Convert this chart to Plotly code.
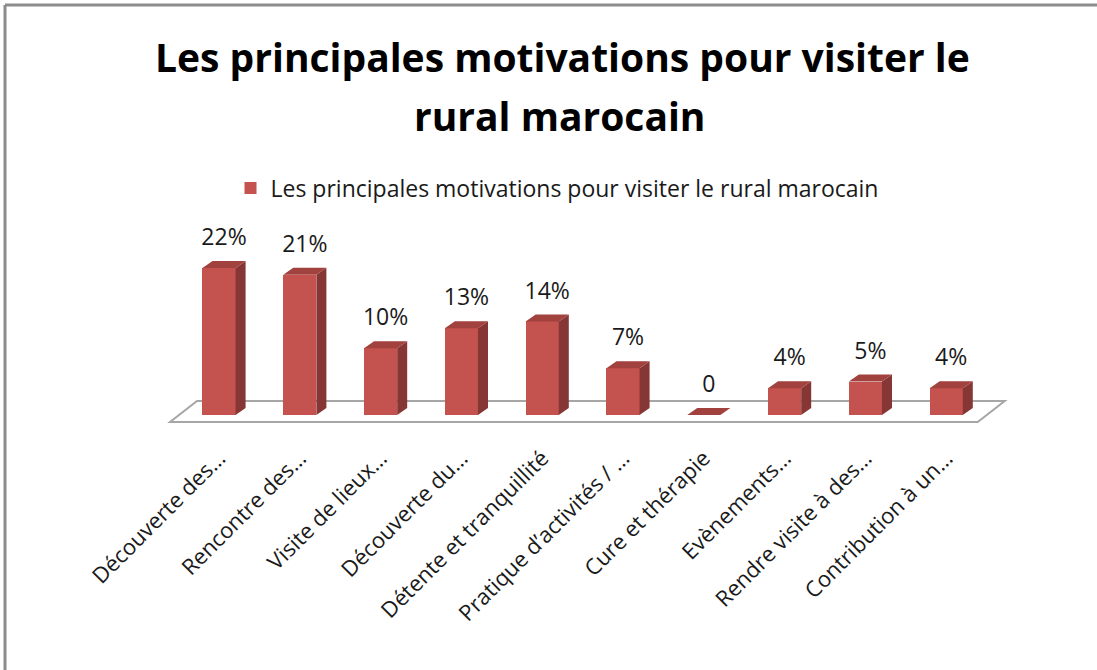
import plotly.graph_objects as go

FONT_FAMILY = "Open Sans, Noto Sans, sans-serif"

CATEGORIES = [
    "Découverte des…",
    "Rencontre des…",
    "Visite de lieux…",
    "Découverte du…",
    "Détente et tranquillité",
    "Pratique d’activités / …",
    "Cure et thérapie",
    "Evènements…",
    "Rendre visite à des…",
    "Contribution à un…",
]
VALUES = [22, 21, 10, 13, 14, 7, 0, 4, 5, 4]
LABELS = ["22%", "21%", "10%", "13%", "14%", "7%", "0", "4%", "5%", "4%"]
SERIES_NAME = "Les principales motivations pour visiter le rural marocain"

FRONT = "#c4534f"
SIDE = "#863634"
TOP = "#a2423e"

# pseudo 3d geometry, in axis units
BAR_W = 0.41
DX = 0.124
DY = 1.05
LABEL_GAP = 4.3

# plot area in pixels: x 150..1030, y 200..440
ML, MR, MT, MB = 150, 67, 200, 230
PW, PH = 1097 - ML - MR, 670 - MT - MB


def px_x(p):
    return (p - ML) / PW


def px_y(p):
    return (670 - MB - p) / PH


xs = list(range(len(CATEGORIES)))

fig = go.Figure()

fig.add_trace(go.Bar(
    x=xs,
    y=VALUES,
    width=BAR_W,
    marker=dict(color=FRONT, line=dict(width=0)),
    name=SERIES_NAME,
    hoverinfo="skip",
))

side_x, side_y, top_x, top_y = [], [], [], []
for x, v in zip(xs, VALUES):
    r = x + BAR_W / 2
    l = x - BAR_W / 2
    if v > 0:
        side_x += [r, r + DX, r + DX, r, r, None]
        side_y += [0, DY, v + DY, v, 0, None]
    top_x += [l, r, r + DX, l + DX, l, None]
    top_y += [v, v, v + DY, v + DY, v, None]

fig.add_trace(go.Scatter(
    x=side_x, y=side_y, mode="lines", fill="toself",
    fillcolor=SIDE, line=dict(width=0, color=SIDE),
    showlegend=False, hoverinfo="skip",
))
fig.add_trace(go.Scatter(
    x=top_x, y=top_y, mode="lines", fill="toself",
    fillcolor=TOP, line=dict(width=0, color=TOP),
    showlegend=False, hoverinfo="skip",
))
fig.add_trace(go.Scatter(
    x=[x + DX / 2 for x in xs],
    y=[v + LABEL_GAP for v in VALUES],
    mode="text",
    text=LABELS,
    textposition="middle center",
    textfont=dict(size=23, color="#1a1a1a"),
    showlegend=False, hoverinfo="skip",
))

# floor of the 3d plot
n = len(CATEGORIES)
fl_front, fl_back = -1.05, 2.1
fl_l, fl_r = -0.606, n - 1 + 0.39
fl_dx = 0.334
fig.add_shape(
    type="path",
    path=(f"M {fl_l},{fl_front} L {fl_r},{fl_front} "
          f"L {fl_r + fl_dx},{fl_back} L {fl_l + fl_dx},{fl_back} Z"),
    xref="x", yref="y",
    line=dict(color="#a6a6a6", width=2),
    fillcolor="white",
    layer="below",
)

# outer chart frame: only the left and top edges are inside the page
frame = dict(color="#8c8c8c", width=3)
fig.add_shape(type="line", xref="paper", yref="paper",
              x0=px_x(5), x1=px_x(1097), y0=px_y(5), y1=px_y(5), line=frame)
fig.add_shape(type="line", xref="paper", yref="paper",
              x0=px_x(5), x1=px_x(5), y0=px_y(670), y1=px_y(5), line=frame)

fig.add_annotation(
    text="<b>Les principales motivations pour visiter le</b>",
    xref="paper", yref="paper", x=px_x(562), y=px_y(57),
    xanchor="center", yanchor="middle", showarrow=False,
    font=dict(size=39, color="black"),
)
fig.add_annotation(
    text="<b>rural marocain</b>",
    xref="paper", yref="paper", x=px_x(560), y=px_y(116),
    xanchor="center", yanchor="middle", showarrow=False,
    font=dict(size=39, color="black"),
)

fig.update_layout(
    width=1097,
    height=670,
    font=dict(family=FONT_FAMILY, size=19, color="#1a1a1a"),
    paper_bgcolor="white",
    plot_bgcolor="white",
    margin=dict(l=ML, r=MR, t=MT, b=MB),
    showlegend=True,
    legend=dict(
        orientation="h", x=px_x(557), xanchor="center",
        y=px_y(188), yanchor="middle",
        font=dict(size=23), itemwidth=30,
    ),
    bargap=0,
)
fig.update_xaxes(
    range=[-0.854, -0.854 + PW / 80.8],
    tickvals=xs,
    ticktext=CATEGORIES,
    tickangle=-45,
    showgrid=False, zeroline=False, showline=False, ticks="",
    tickfont=dict(size=22),
    fixedrange=True,
)
fig.update_yaxes(
    range=[-25 / 6.68, -25 / 6.68 + PH / 6.68],
    visible=False,
    fixedrange=True,
)

fig.write_html(
    "out.html",
    config={"displayModeBar": False},
    post_script="document.body.style.margin='0';document.body.style.overflow='hidden';",
)
